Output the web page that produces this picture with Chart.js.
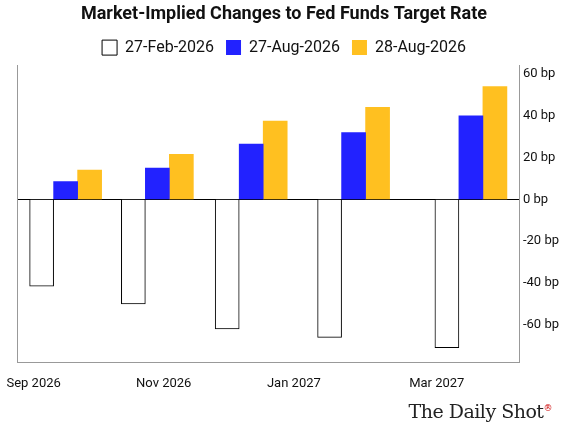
<!DOCTYPE html>
<html>
<head>
<script src="https://cdn.jsdelivr.net/npm/chart.js@4"></script>
<style>
  body { margin: 0; background: #fff; }
  #wrap { width: 564px; height: 432px; position: relative; }
  #brand { position: absolute; right: 12px; bottom: 10px; font-family: "DejaVu Serif", serif; font-size: 19px; color: #222; letter-spacing: -0.5px; }
  #brand sup { font-size: 9px; color: #c00; }
</style>
</head>
<body>
<div id="wrap">
  <canvas id="chart" width="564" height="432"></canvas>
  <div id="brand">The Daily Shot<sup>®</sup></div>
</div>
<script>
// meeting positions in days from 1 Sep 2026
var meetingDays = [15, 58, 102, 150, 205];
var tickDays = [0, 61, 122, 189];
var tickLabels = ["Sep 2026", "Nov 2026", "Jan 2027", "Mar 2027"];
var feb27 = [-41.5, -50, -62, -66, -71];
var aug27 = [8.5, 15, 26.5, 32, 40];
var aug28 = [14, 21.5, 37.5, 44, 54];

function pts(vals) {
  return vals.map(function (v, i) { return { x: meetingDays[i], y: v }; });
}

new Chart(document.getElementById("chart"), {
  type: "bar",
  data: {
    datasets: [
      { label: "27-Feb-2026", data: pts(feb27), backgroundColor: "#ffffff", borderColor: "#000000", borderWidth: 1 },
      { label: "27-Aug-2026", data: pts(aug27), backgroundColor: "#2222ff", borderWidth: 0 },
      { label: "28-Aug-2026", data: pts(aug28), backgroundColor: "#ffc020", borderWidth: 0 },
    ],
  },
  options: {
    responsive: false,
    animation: false,
    barThickness: 24,
    layout: { padding: { left: 6, right: 2, bottom: 34 } },
    plugins: {
      title: {
        display: true,
        text: "Market-Implied Changes to Fed Funds Target Rate",
        font: { family: "Roboto", size: 18, weight: "bold" },
        color: "#111",
        padding: { top: 4, bottom: 2 },
      },
      legend: {
        labels: {
          boxWidth: 15, boxHeight: 15, padding: 12,
          font: { family: "Roboto", size: 16 }, color: "#111",
        },
      },
      tooltip: { enabled: false },
    },
    scales: {
      x: {
        type: "linear",
        offset: false,
        min: -7.6,
        max: 228,
        afterBuildTicks: function (axis) {
          axis.ticks = tickDays.map(function (d) { return { value: d }; });
        },
        ticks: {
          autoSkip: false,
          maxRotation: 0,
          padding: 6,
          font: { family: "Roboto", size: 13 }, color: "#111",
          callback: function (v) { return tickLabels[tickDays.indexOf(v)]; },
        },
        grid: { display: false },
        border: { color: "#999" },
      },
      y: {
        position: "right",
        min: -78,
        max: 64,
        afterBuildTicks: function (axis) {
          axis.ticks = [-60, -40, -20, 0, 20, 40, 60].map(function (v) { return { value: v }; });
        },
        ticks: {
          font: { family: "Roboto", size: 13 }, color: "#111",
          callback: function (v) { return v + " bp"; },
        },
        grid: {
          drawTicks: false,
          color: function (c) { return c.tick && c.tick.value === 0 ? "#000" : "rgba(0,0,0,0)"; },
        },
        border: { color: "#999" },
      },
      yl: {
        position: "left",
        min: -78, max: 64,
        ticks: { display: false },
        grid: { display: false },
        border: { color: "#999" },
      },
    },
  },
});
</script>
</body>
</html>
